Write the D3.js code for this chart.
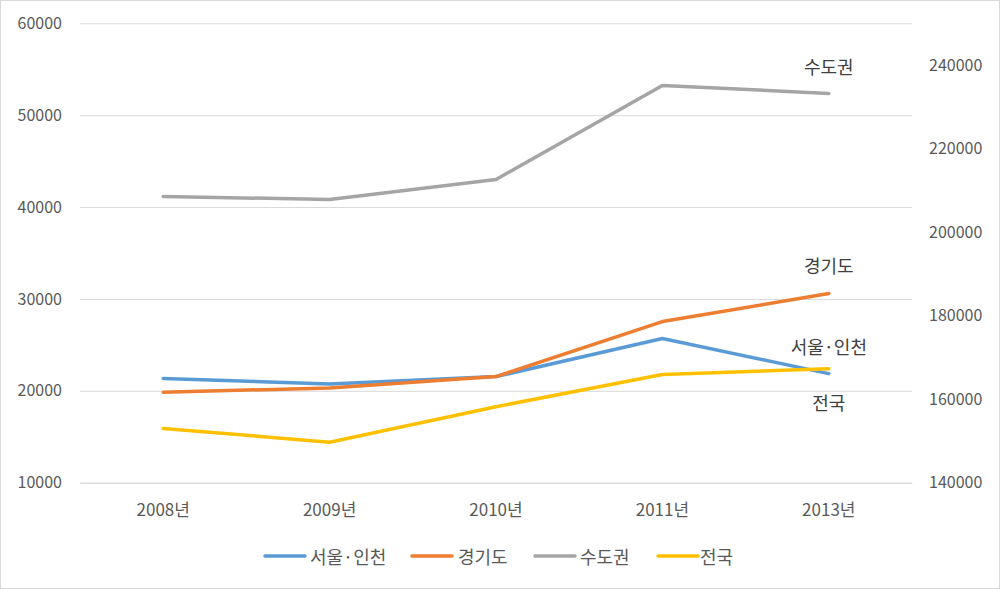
<!DOCTYPE html>
<html><head><meta charset="utf-8">
<script src="https://cdn.jsdelivr.net/npm/d3@7"></script>
<style>
html,body{margin:0;padding:0;background:#fff;}
svg text{font-family:"Noto Sans CJK KR","Noto Sans",sans-serif;}
</style></head>
<body><svg id="chart" width="1000" height="589"></svg>
<script>
const categories = ["2008년","2009년","2010년","2011년","2013년"];
const seoulIncheon = [21340, 20740, 21550, 25690, 21870];
const gyeonggi = [19840, 20320, 21550, 27540, 30590];
const capitalArea = [41150, 40830, 43000, 53240, 52370];
const national = [153000, 149700, 158200, 165900, 167300];
const seriesNames = ["서울·인천","경기도","수도권","전국"];
const seriesColors = ["#5B9BD5","#ED7D31","#A5A5A5","#FFC000"];
const leftTicks = [10000,20000,30000,40000,50000,60000];
const rightTicks = [140000,160000,180000,200000,220000,240000];

const svg = d3.select("#chart");
const W = 1000, H = 589;
svg.append("rect").attr("x",0.5).attr("y",0.5).attr("width",W-1).attr("height",H-1)
  .attr("fill","#fff").attr("stroke","#d9d9d9");

const plot = {left:80, right:912, top:23.3, bottom:482.7};
const x = d3.scaleBand().domain(categories).range([plot.left, plot.right]);
const yL = d3.scaleLinear().domain([10000,60000]).range([plot.bottom, plot.top]);
const yR = d3.scaleLinear().domain([140000,250000]).range([plot.bottom, plot.top]);

const gAxisL = svg.append("g").attr("transform",`translate(${plot.left},0)`)
  .call(d3.axisLeft(yL).tickValues(leftTicks).tickSize(-(plot.right-plot.left)).tickPadding(18).tickFormat(d3.format("d")));
gAxisL.select(".domain").remove();
gAxisL.selectAll(".tick line").attr("stroke","#d9d9d9").attr("stroke-width",1);
gAxisL.selectAll("text").attr("fill","#595959").attr("font-size",16);

const gAxisR = svg.append("g").attr("transform",`translate(${plot.right},0)`)
  .call(d3.axisRight(yR).tickValues(rightTicks).tickSize(0).tickPadding(17).tickFormat(d3.format("d")));
gAxisR.select(".domain").remove();
gAxisR.selectAll("text").attr("fill","#595959").attr("font-size",16);

const gX = svg.append("g").attr("transform",`translate(0,${plot.bottom})`)
  .call(d3.axisBottom(x).tickSize(0).tickPadding(21));
gX.select(".domain").attr("stroke","#d9d9d9");
gX.selectAll("text").attr("fill","#595959").attr("font-size",17);

const series = [
  {name:seriesNames[0], values:seoulIncheon, y:yL, color:seriesColors[0]},
  {name:seriesNames[1], values:gyeonggi, y:yL, color:seriesColors[1]},
  {name:seriesNames[2], values:capitalArea, y:yL, color:seriesColors[2]},
  {name:seriesNames[3], values:national, y:yR, color:seriesColors[3]}
];
series.forEach(s => {
  const line = d3.line().x((d,i)=>x(categories[i])+x.bandwidth()/2).y(d=>s.y(d));
  svg.append("path").datum(s.values).attr("d",line).attr("fill","none")
    .attr("stroke",s.color).attr("stroke-width",3.5).attr("stroke-linejoin","round").attr("stroke-linecap","round");
});

const lastX = x(categories[4]) + x.bandwidth()/2;
const annot = [
  {t:"수도권", y:66},
  {t:"경기도", y:265},
  {t:"서울·인천", y:346},
  {t:"전국", y:402}
];
svg.selectAll("text.annot").data(annot).enter().append("text").attr("class","annot")
  .attr("x",lastX).attr("y",d=>d.y).attr("text-anchor","middle").attr("dominant-baseline","central")
  .attr("font-size",18).attr("fill","#404040").text(d=>d.t);

const legendItems = [
  {x1:265, tx:310},
  {x1:412, tx:458},
  {x1:535, tx:580},
  {x1:658, tx:700}
];
const lg = svg.append("g");
series.forEach((s,i) => {
  lg.append("line").attr("x1",legendItems[i].x1).attr("x2",legendItems[i].x1+40)
    .attr("y1",556).attr("y2",556).attr("stroke",s.color).attr("stroke-width",3.5).attr("stroke-linecap","round");
  lg.append("text").attr("x",legendItems[i].tx).attr("y",556).attr("dominant-baseline","central")
    .attr("font-size",18).attr("fill","#595959").text(s.name);
});
</script></body></html>
